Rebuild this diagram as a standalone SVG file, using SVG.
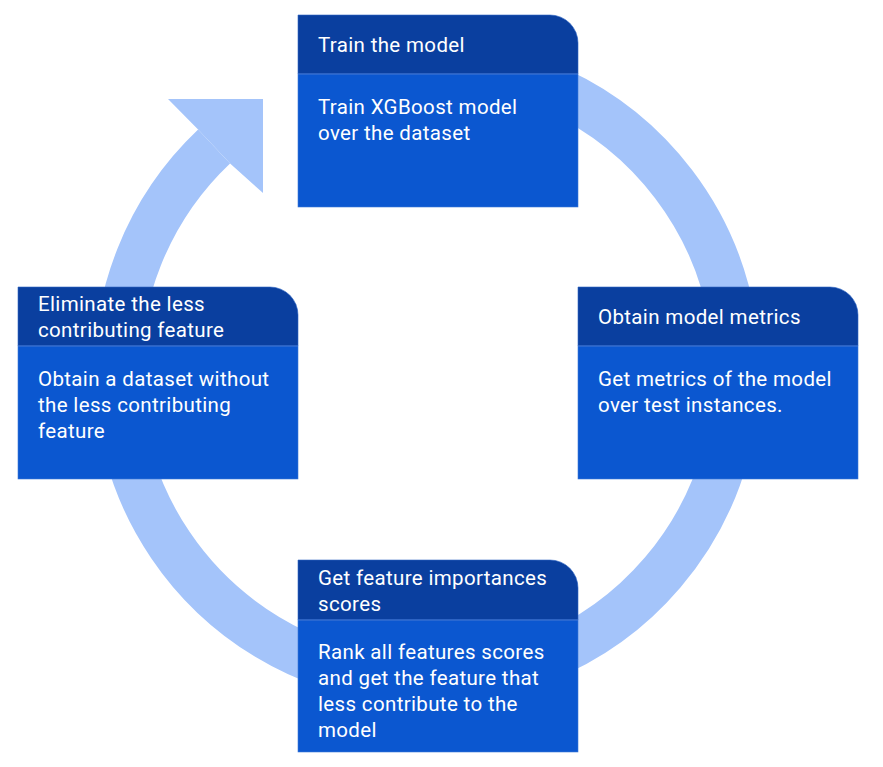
<svg xmlns="http://www.w3.org/2000/svg" width="883" height="767" viewBox="0 0 883 767">
<style>
.hd{fill:#0a3f9f;stroke:#2f66c4;stroke-width:0.6}
.bd{fill:#0b57d0;stroke:#3f78d8;stroke-width:0.6}
.sep{stroke:#3a70cf;stroke-width:1}
.t{font-family:Roboto,"Liberation Sans",sans-serif;font-size:20.5px;letter-spacing:0.35px;fill:#ffffff}
.ring{fill:none;stroke:#a4c4fa;stroke-width:46.5}
</style>
<rect width="883" height="767" fill="#ffffff"/>
<g id="connectors">
<path class="ring" d="M 427 61.75 A 309.75 309.75 0 1 1 214.1 146.5"/>
<polygon fill="#a4c4fa" points="198.1,129.6 168,99 263,99 263,193 230.1,163.4"/>
</g>
<g id="node-train">
<path class="hd" d="M298 15 H550 A28 28 0 0 1 578 43 V74 H298 Z"/>
<rect class="bd" x="298" y="74" width="280" height="133"/>
<line class="sep" x1="298" y1="74" x2="578" y2="74"/>
<text class="t" x="318" y="52">Train the model</text>
<text class="t" x="318" y="113.5">Train XGBoost model</text>
<text class="t" x="318" y="139.5">over the dataset</text>
</g>
<g id="node-metrics">
<path class="hd" d="M578 287 H830 A28 28 0 0 1 858 315 V346 H578 Z"/>
<rect class="bd" x="578" y="346" width="280" height="133"/>
<line class="sep" x1="578" y1="346" x2="858" y2="346"/>
<text class="t" x="598" y="323.5">Obtain model metrics</text>
<text class="t" x="598" y="386">Get metrics of the model</text>
<text class="t" x="598" y="412">over test instances.</text>
</g>
<g id="node-importances">
<path class="hd" d="M298 560 H550 A28 28 0 0 1 578 588 V620 H298 Z"/>
<rect class="bd" x="298" y="620" width="280" height="132"/>
<line class="sep" x1="298" y1="620" x2="578" y2="620"/>
<text class="t" x="318" y="584.5">Get feature importances</text>
<text class="t" x="318" y="610.5">scores</text>
<text class="t" x="318" y="659">Rank all features scores</text>
<text class="t" x="318" y="685">and get the feature that</text>
<text class="t" x="318" y="711">less contribute to the</text>
<text class="t" x="318" y="737">model</text>
</g>
<g id="node-eliminate">
<path class="hd" d="M18 287 H270 A28 28 0 0 1 298 315 V346 H18 Z"/>
<rect class="bd" x="18" y="346" width="280" height="133"/>
<line class="sep" x1="18" y1="346" x2="298" y2="346"/>
<text class="t" x="38" y="311">Eliminate the less</text>
<text class="t" x="38" y="337">contributing feature</text>
<text class="t" x="38" y="386">Obtain a dataset without</text>
<text class="t" x="38" y="412">the less contributing</text>
<text class="t" x="38" y="438">feature</text>
</g>
</svg>
